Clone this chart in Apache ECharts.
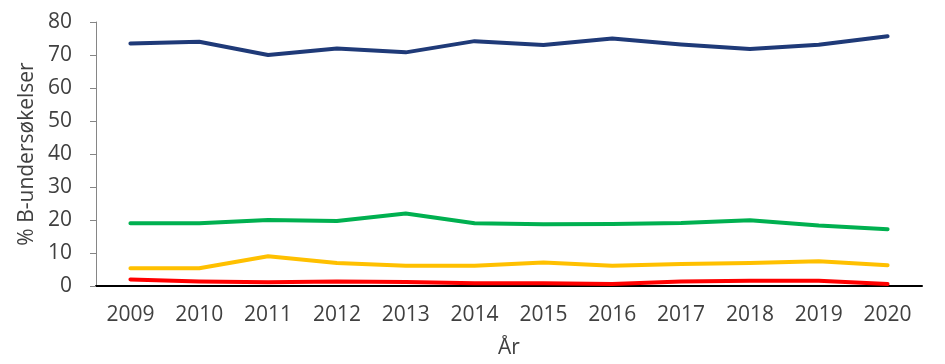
<!DOCTYPE html>
<html>
<head>
<meta charset="utf-8">
<script src="https://cdn.jsdelivr.net/npm/echarts@6/dist/echarts.min.js"></script>
<style>html,body{margin:0;padding:0;background:#fff}#c{width:945px;height:364px}</style>
</head>
<body>
<div id="c"></div>
<script>
const years = ['2009','2010','2011','2012','2013','2014','2015','2016','2017','2018','2019','2020'];
const navyValues = [73.5, 74.0, 70.0, 72.0, 70.8, 74.2, 73.0, 75.0, 73.2, 71.8, 73.1, 75.7];
const greenValues = [19.0, 19.0, 20.0, 19.7, 22.0, 19.0, 18.7, 18.8, 19.1, 19.9, 18.3, 17.2];
const yellowValues = [5.4, 5.4, 9.0, 7.0, 6.1, 6.1, 7.1, 6.1, 6.7, 7.0, 7.5, 6.3];
const redValues = [2.0, 1.4, 1.1, 1.4, 1.2, 0.8, 0.8, 0.6, 1.4, 1.6, 1.6, 0.6];
const yTicks = [0, 10, 20, 30, 40, 50, 60, 70, 80];

const font = 'Open Sans';
const txt = '#404040';
function line(name, data, color) {
  return { name, type: 'line', data, symbol: 'none', smooth: false,
    lineStyle: { color, width: 4, cap: 'round', join: 'round' }, itemStyle: { color } };
}
const chart = echarts.init(document.getElementById('c'));
chart.setOption({
  animation: false,
  grid: { left: 96, right: 23, top: 22, bottom: 78, containLabel: false },
  xAxis: {
    type: 'category', data: years, boundaryGap: true,
    name: 'År', nameLocation: 'middle', nameGap: 52,
    nameTextStyle: { fontFamily: font, fontSize: 21, color: txt },
    axisLine: { lineStyle: { color: '#000', width: 2 } },
    axisTick: { show: false },
    axisLabel: { fontFamily: font, fontSize: 21, color: txt, margin: 19, interval: 0 }
  },
  yAxis: {
    type: 'value', min: yTicks[0], max: yTicks[yTicks.length - 1], interval: 10,
    name: '% B-undersøkelser', nameLocation: 'middle', nameGap: 58,
    nameTextStyle: { fontFamily: font, fontSize: 21, color: txt },
    axisLine: { show: true, lineStyle: { color: '#868686', width: 1 } },
    axisTick: { show: true, length: 6, lineStyle: { color: '#868686' } },
    splitLine: { show: false },
    axisLabel: { fontFamily: font, fontSize: 21, color: txt, margin: 24 }
  },
  series: [
    line('Blå', navyValues, '#1F3A78'),
    line('Grønn', greenValues, '#00B050'),
    line('Gul', yellowValues, '#FFC000'),
    line('Rød', redValues, '#FF0000')
  ]
});
</script>
</body>
</html>
